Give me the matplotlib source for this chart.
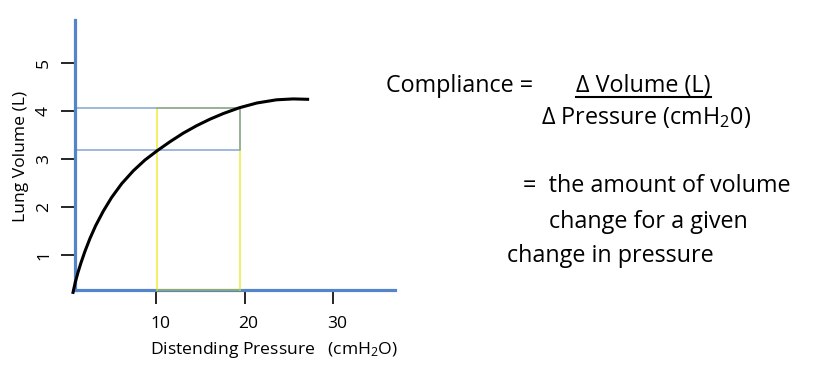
import matplotlib
matplotlib.use('Agg')
import matplotlib.pyplot as plt
import matplotlib.transforms as mtransforms
from matplotlib.lines import Line2D

plt.rcParams['font.family'] = ['Open Sans', 'DejaVu Sans']
plt.rcParams['mathtext.fontset'] = 'custom'
plt.rcParams['mathtext.rm'] = 'Open Sans'
plt.rcParams['mathtext.it'] = 'Open Sans:italic'
plt.rcParams['mathtext.default'] = 'rm'

# ---- data ----
pressure = [0.59, 0.88, 1.19, 1.53, 1.98, 2.54, 3.18, 4.05, 4.99, 6.12, 7.44,
            8.76, 10.19, 11.58, 13.09, 14.6, 16.1, 17.6, 19.4, 21.4, 23.6,
            25.5, 27.3]
volume = [0.19, 0.43, 0.64, 0.84, 1.08, 1.345, 1.61, 1.915, 2.2, 2.485, 2.755,
          2.98, 3.18, 3.36, 3.54, 3.695, 3.83, 3.947, 4.067, 4.167, 4.233,
          4.252, 4.243]
x_ticks = [10, 20, 30]
y_ticks = [1, 2, 3, 4, 5]
dp_low, dp_high = 10.1, 19.5     # pressure bracket
dv_low, dv_high = 3.19, 4.07     # volume bracket
x_label = "Distending Pressure   (cmH$_2$O)"
y_label = "Lung Volume (L)"
eq_left = "Compliance ="
eq_num = "\u0394 Volume (L)"
eq_den = "\u0394 Pressure (cmH$_2$0)"
desc_lines = ["=  the amount of volume", "change for a given", "change in pressure"]

W, H = 814, 374
fig = plt.figure(figsize=(W / 100, H / 100), dpi=100)


def fx(px):
    return px / W


def fy(py):
    return 1 - py / H


ax = fig.add_axes([fx(75), fy(290), (395 - 75) / W, (290 - 20) / H])
xlim = (0.85, 37.0)
ylim = (0.271, 5.896)
ax.set_xlim(*xlim)
ax.set_ylim(*ylim)

spine_col = '#5585C8'
for s in ['top', 'right']:
    ax.spines[s].set_visible(False)
for s in ['left', 'bottom']:
    ax.spines[s].set_color(spine_col)
    ax.spines[s].set_linewidth(2.3)

# yellow pressure bracket (drawn first, blue overlays it)
yel = (0.90, 0.90, 0.0, 0.65)
ax.plot([dp_low, dp_low, dp_high, dp_high], [ylim[0], dv_high, dv_high, ylim[0]],
        color=yel, lw=1.3, zorder=3, clip_on=False)
ax.plot([dp_low, dp_high], [ylim[0], ylim[0]], color=(0.75, 0.8, 0.1, 0.6), lw=1.3,
        zorder=3, clip_on=False)
# blue volume bracket
blu = (79 / 255, 129 / 255, 189 / 255, 0.6)
ax.plot([xlim[0], dp_high, dp_high, xlim[0]], [dv_high, dv_high, dv_low, dv_low],
        color=blu, lw=1.3, zorder=4, clip_on=False)

# compliance curve
ax.plot(pressure, volume, color='black', lw=2.2, zorder=5, clip_on=False,
        solid_capstyle='butt', solid_joinstyle='round')

ax.set_xticks(x_ticks)
ax.set_yticks(y_ticks)
ax.tick_params(axis='both', direction='out', length=10, width=1.2, color='black',
               labelsize=12.6)
ax.tick_params(axis='x', pad=8.5)
ax.tick_params(axis='y', pad=6.5, labelrotation=90)
for lab in ax.get_yticklabels():
    lab.set_va('center')
offset = mtransforms.ScaledTranslation(4 / 100, 0, fig.dpi_scale_trans)
for lab in ax.get_xticklabels():
    lab.set_transform(lab.get_transform() + offset)

fig.text(fx(150), fy(354), x_label, fontsize=12.6, ha='left', va='baseline')
fig.text(fx(25), fy(156), y_label, fontsize=12.6, rotation=90,
         rotation_mode='anchor', ha='center', va='baseline')

fs = 16.8
fig.text(fx(460), fy(92.3), eq_left, fontsize=fs, ha='center', va='baseline')
t_num = fig.text(fx(643.3), fy(92.3), eq_num, fontsize=fs, ha='center', va='baseline')
fig.text(fx(645.9), fy(124.3), eq_den, fontsize=fs, ha='center', va='baseline')
desc_centers = [656.7, 648.3, 610.0]
desc_baselines = [191.7, 227.7, 261.7]
for txt, cx, by in zip(desc_lines, desc_centers, desc_baselines):
    fig.text(fx(cx), fy(by), txt, fontsize=fs, ha='center', va='baseline')

fig.canvas.draw()
bb = t_num.get_window_extent(fig.canvas.get_renderer())
fig.add_artist(Line2D([bb.x0 / W, bb.x1 / W], [fy(97.3), fy(97.3)],
                      transform=fig.transFigure, color='black', lw=1.5))

fig.savefig('out.png', dpi=100, facecolor='white')
